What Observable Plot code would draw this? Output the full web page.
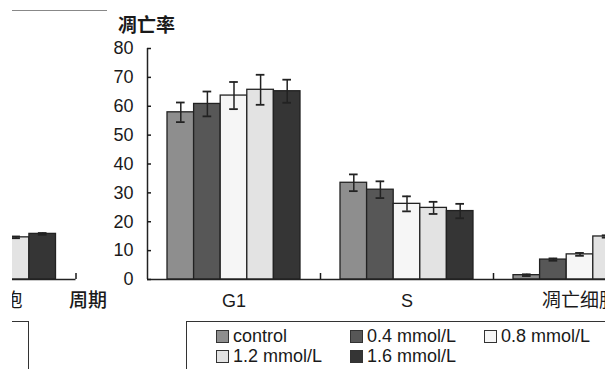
<!DOCTYPE html>
<html>
<head>
<meta charset="utf-8">
<script src="https://cdn.jsdelivr.net/npm/d3@7"></script>
<script src="https://cdn.jsdelivr.net/npm/@observablehq/plot@0.6"></script>
<style>
  html, body { margin: 0; padding: 0; background: #fff; }
  #wrap { position: relative; width: 605px; height: 369px; overflow: hidden; background: #fff;
          font-family: "Liberation Sans", Arial, "Noto Sans CJK SC", sans-serif; color: #1a1a1a; }
  #wrap svg { max-width: none !important; }
  #wrap > svg { position: absolute; left: 0; top: 0; }
  #leftclip { position: absolute; left: 12px; top: 0; width: 128px; height: 369px; overflow: hidden; }
  #leftclip svg { position: absolute; left: -12px; top: 0; }
  .title { position: absolute; left: 118px; top: 10px; font-size: 19px; font-weight: 700;
           font-family: "Noto Sans CJK SC", sans-serif; }
  .topline { position: absolute; left: 12px; top: 10px; width: 95px; border-top: 1px solid #888; }
  .leftbox { position: absolute; left: -100px; top: 321px; width: 115px; height: 100px; border: 1.5px solid #333; }
  .legend { position: absolute; left: 186px; top: 321px; width: 500px; height: 100px; border: 1.5px solid #333; background: #fff;
            box-sizing: border-box; padding: 4px 0 0 29px; display: grid; grid-template-columns: 134px 134px 134px; grid-auto-rows: 20px; }
  .item { display: flex; align-items: center; font-size: 18px; white-space: nowrap; }
  .sw { width: 11px; height: 11px; border: 1px solid #333; margin-right: 4px; flex: none; }
</style>
</head>
<body>
<div id="wrap"></div>
<script>
// ---- data ----
const groups = ["G1", "S", "凋亡细胞"];
const series = ["control", "0.4 mmol/L", "0.8 mmol/L", "1.2 mmol/L", "1.6 mmol/L"];
const colors = ["#8e8e8e", "#575757", "#f6f6f6", "#e3e3e3", "#353535"];
const g1Mean = [57.9, 60.8, 63.7, 65.7, 65.2];
const g1Err  = [3.4, 4.3, 4.7, 5.2, 4.0];
const sMean  = [33.5, 31.1, 26.2, 24.8, 23.7];
const sErr   = [2.9, 2.9, 2.6, 2.1, 2.5];
const apMean = [1.5, 6.9, 8.7, 14.9, 16.0];
const apErr  = [0.3, 0.4, 0.5, 0.4, 0.5];
// partial left panel (only the last two bars of its 凋亡细胞 group are visible)
const leftSeriesIdx = [3, 4];
const leftMean = [14.6, 15.8];
const leftErr  = [0.3, 0.3];
const yTicks = [0, 10, 20, 30, 40, 50, 60, 70, 80];
const xTitle = "周期";

// layout of bars inside a group (in group units)
const pad = 20 / 173, bw = (1 - 2 * pad) / 5, cap = 0.025;
function makeBars(gi, means, errs, idx) {
  return means.map((v, k) => {
    const si = idx ? idx[k] : k;
    const x1 = gi - 0.5 + pad + si * bw;
    return {series: series[si], value: v, err: errs[k], x1, x2: x1 + bw, xc: x1 + bw / 2};
  });
}
const bars = [
  ...makeBars(0, g1Mean, g1Err),
  ...makeBars(1, sMean, sErr),
  ...makeBars(2, apMean, apErr)
];
const leftBars = makeBars(0, leftMean, leftErr, leftSeriesIdx);

const font = "'Liberation Sans', Arial, 'Noto Sans CJK SC', sans-serif";
const cjk = "'Noto Sans CJK SC', sans-serif";
const colorScale = {domain: series, range: colors};

function barMarks(data) {
  return [
    Plot.rectY(data, {x1: "x1", x2: "x2", y: "value", fill: "series", stroke: "#222", strokeWidth: 1.3}),
    Plot.ruleX(data, {x: "xc", y1: d => d.value - d.err, y2: d => d.value + d.err, stroke: "#222", strokeWidth: 1.5}),
    Plot.ruleY(data, {y: d => d.value + d.err, x1: d => d.xc - cap, x2: d => d.xc + cap, stroke: "#222", strokeWidth: 1.8}),
    Plot.ruleY(data, {y: d => d.value - d.err, x1: d => d.xc - cap, x2: d => d.xc + cap, stroke: "#222", strokeWidth: 1.8})
  ];
}

const main = Plot.plot({
  width: 605, height: 369,
  marginLeft: 147, marginRight: 0, marginTop: 48, marginBottom: 90,
  style: {fontFamily: font, fontSize: "18px", color: "#1a1a1a", background: "transparent"},
  x: {domain: [-0.5, 2.5], range: [147, 147 + 3 * 173]},
  y: {domain: [0, 80], range: [279, 48]},
  color: colorScale,
  marks: [
    ...barMarks(bars),
    Plot.ruleX([-0.5], {y1: 0, y2: 80, stroke: "#222", strokeWidth: 1.5}),
    Plot.ruleY([0], {x1: -0.5, x2: 2.5, stroke: "#222", strokeWidth: 1.5}),
    Plot.axisY({ticks: yTicks, tickSize: -4, tickPadding: 18, label: null, strokeWidth: 1.5}),
    Plot.axisX({ticks: [0.5, 1.5, 2.5], tickSize: -6, tickFormat: () => "", label: null, strokeWidth: 1.5}),
    Plot.axisX({ticks: [0, 1], tickSize: 0, tickPadding: 15, tickFormat: i => groups[i], label: null}),
    Plot.axisX({ticks: [2], tickSize: 0, tickPadding: 14, tickFormat: i => groups[i], label: null, fontSize: 19, fontFamily: cjk})
  ]
});

const left = Plot.plot({
  width: 140, height: 369,
  marginLeft: 0, marginRight: 0, marginTop: 48, marginBottom: 90,
  style: {fontFamily: font, fontSize: "18px", color: "#1a1a1a", background: "transparent"},
  x: {domain: [-0.5, 0.5], range: [75.5 - 173, 75.5]},
  y: {domain: [0, 80], range: [279, 48], axis: null},
  color: colorScale,
  marks: [
    ...barMarks(leftBars),
    Plot.ruleY([0], {x1: -0.5, x2: 0.5, stroke: "#222", strokeWidth: 1.5}),
    Plot.axisX({ticks: [0.5], tickSize: -6, tickFormat: () => "", label: null, strokeWidth: 1.5}),
    Plot.axisX({ticks: [0], tickSize: 0, tickPadding: 14, dx: -5, tickFormat: () => groups[2], label: null, fontSize: 19, fontFamily: cjk}),
    Plot.text([xTitle], {x: () => 0.5, y: () => 0, dx: -7, dy: 21, textAnchor: "start", fontSize: 19, fontWeight: 500, fontFamily: cjk})
  ]
});

const wrap = document.getElementById("wrap");
const leftClip = document.createElement("div");
leftClip.id = "leftclip";
leftClip.appendChild(left);
const lbox = document.createElement("div");
lbox.className = "leftbox";
leftClip.appendChild(lbox);
wrap.appendChild(leftClip);
wrap.appendChild(main);

const deco = document.createElement("div");
deco.innerHTML = '<div class="topline"></div><div class="title">凋亡率</div>';
wrap.appendChild(deco);

const legend = document.createElement("div");
legend.className = "legend";
series.forEach((s, i) => {
  const it = document.createElement("div");
  it.className = "item";
  const sw = document.createElement("span");
  sw.className = "sw";
  sw.style.background = colors[i];
  it.appendChild(sw);
  it.appendChild(document.createTextNode(s));
  legend.appendChild(it);
});
wrap.appendChild(legend);
</script>
</body>
</html>
